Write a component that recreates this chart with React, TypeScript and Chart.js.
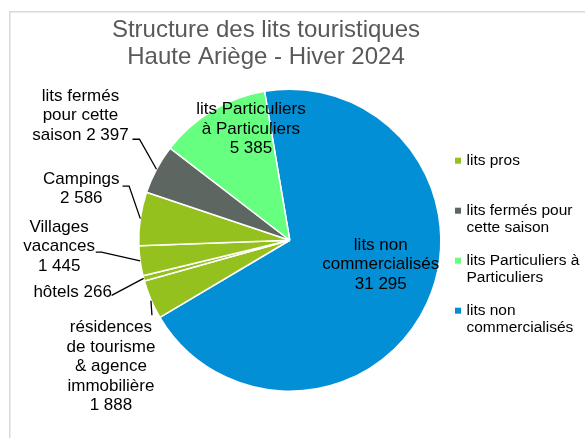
import React, { useEffect, useRef } from "react";
import { Chart, registerables } from "chart.js";

Chart.register(...registerables);

// ---------- data ----------
const categories = [
  "lits non commercialisés",
  "résidences de tourisme & agence immobilière",
  "hôtels",
  "Villages vacances",
  "Campings",
  "lits fermés pour cette saison",
  "lits Particuliers à Particuliers",
];
const values = [31295, 1888, 266, 1445, 2586, 2397, 5385];
// legend group of each slice (index into legendLabels)
const sliceGroup = [3, 0, 0, 0, 0, 1, 2];
const legendLabels = [
  ["lits pros"],
  ["lits fermés pour", "cette saison"],
  ["lits Particuliers à", "Particuliers"],
  ["lits non", "commercialisés"],
];
const labelLines = [
  ["lits non", "commercialisés"],
  ["résidences", "de tourisme", "& agence", "immobilière"],
  ["hôtels"],
  ["Villages", "vacances"],
  ["Campings"],
  ["lits fermés", "pour cette", "saison"],
  ["lits Particuliers", "à Particuliers"],
];
const valueInline = [false, false, true, false, false, true, false];
const titleLines = ["Structure des lits touristiques", "Haute Ariège - Hiver 2024"];

// ---------- styles ----------
const groupColors = ["#95C11F", "#5D6661", "#66FF80", "#038FD5"];
// label block centre offset from the slice's outer-arc midpoint
const labelOffset = [
  [-46, -39],
  [-40, 67],
  [-71, 13.5],
  [-81, -14.3],
  [-59, -30],
  [-76, -53.5],
  [39, 18],
];
// leader line vertices relative to the slice's outer-arc midpoint
const leaderPaths: number[][][] = [
  [],
  [[0, 1], [1, 15.5]],
  [[0, 0], [-32, 17]],
  [[0, 0], [-38.7, -8.6], [-44.4, -8.6]],
  [[0, 0], [-11.2, -32.5], [-17.8, -32.5]],
  [[0, 0], [-17, -30], [-24, -30]],
  [],
];

const FONT = "'Liberation Sans', Arial, sans-serif";

function fmt(v: number) {
  return String(v).replace(/\B(?=(\d{3})+(?!\d))/g, " ");
}

const decorPlugin = {
  id: "decor",
  beforeDraw(chart: any) {
    const ctx = chart.ctx as CanvasRenderingContext2D;
    ctx.save();
    ctx.fillStyle = "#ffffff";
    ctx.fillRect(0, 0, chart.width, chart.height);
    // frame
    ctx.strokeStyle = "#D9D9D9";
    ctx.lineWidth = 1.5;
    ctx.beginPath();
    ctx.moveTo(9.75, chart.height);
    ctx.lineTo(9.75, 11.75);
    ctx.lineTo(chart.width, 11.75);
    ctx.stroke();
    // title
    ctx.fillStyle = "#595959";
    ctx.font = `24px ${FONT}`;
    ctx.textAlign = "center";
    ctx.textBaseline = "alphabetic";
    titleLines.forEach((t, i) => ctx.fillText(t, 266, 36.7 + i * 27.6));
    ctx.restore();
  },
  afterDatasetsDraw(chart: any) {
    const ctx = chart.ctx as CanvasRenderingContext2D;
    const meta = chart.getDatasetMeta(0);
    ctx.save();
    // slice labels
    meta.data.forEach((arc: any, i: number) => {
      const { x, y, startAngle, endAngle, outerRadius } = arc.getProps(
        ["x", "y", "startAngle", "endAngle", "outerRadius"],
        true
      );
      const mid = (startAngle + endAngle) / 2;
      const ax = x + Math.cos(mid) * outerRadius;
      const ay = y + Math.sin(mid) * outerRadius;
      const lines = labelLines[i].slice();
      const val = fmt(values[i]);
      if (valueInline[i]) lines[lines.length - 1] += " " + val;
      else lines.push(val);
      const lh = 19.5;
      const cx = ax + labelOffset[i][0];
      const cy = ay + labelOffset[i][1];
      ctx.fillStyle = "#000000";
      ctx.font = `17px ${FONT}`;
      ctx.textAlign = "center";
      ctx.textBaseline = "middle";
      lines.forEach((t, k) => {
        ctx.fillText(t, cx, cy + (k - (lines.length - 1) / 2) * lh);
      });
      const path = leaderPaths[i];
      if (path.length) {
        ctx.strokeStyle = "#000000";
        ctx.lineWidth = 1.3;
        ctx.beginPath();
        path.forEach((p, k) => {
          if (k === 0) ctx.moveTo(ax + p[0], ay + p[1]);
          else ctx.lineTo(ax + p[0], ay + p[1]);
        });
        ctx.stroke();
      }
    });
    // legend
    const lx = 455;
    const ly0 = 160.7;
    const itemGap = 50;
    const lineH = 17.5;
    ctx.font = `15.5px ${FONT}`;
    ctx.textAlign = "left";
    ctx.textBaseline = "middle";
    legendLabels.forEach((lines, i) => {
      const y = ly0 + i * itemGap;
      ctx.fillStyle = groupColors[i];
      ctx.fillRect(lx, y - 3, 6, 6);
      ctx.fillStyle = "#000000";
      lines.forEach((t, k) => ctx.fillText(t, lx + 11.5, y + k * lineH));
    });
    ctx.restore();
  },
};

export default function App() {
  const ref = useRef<HTMLCanvasElement | null>(null);
  useEffect(() => {
    if (!ref.current) return;
    const chart = new Chart(ref.current, {
      type: "pie",
      data: {
        labels: categories,
        datasets: [
          {
            data: values,
            backgroundColor: sliceGroup.map((g) => groupColors[g]),
            borderColor: "#ffffff",
            borderWidth: 1.5,
            hoverOffset: 0,
          },
        ],
      },
      options: {
        responsive: false,
        animation: false,
        rotation: -9.6,
        layout: { padding: { left: 138, right: 143.5, top: 88.5, bottom: 46 } },
        plugins: {
          legend: { display: false },
          title: { display: false },
          tooltip: { enabled: false },
        },
        events: [],
      },
      plugins: [decorPlugin],
    });
    return () => chart.destroy();
  }, []);
  return (
    <div style={{ position: "absolute", left: 0, top: 0, width: 585, height: 438 }}>
      <canvas ref={ref} width={585} height={438} style={{ display: "block" }} />
    </div>
  );
}
